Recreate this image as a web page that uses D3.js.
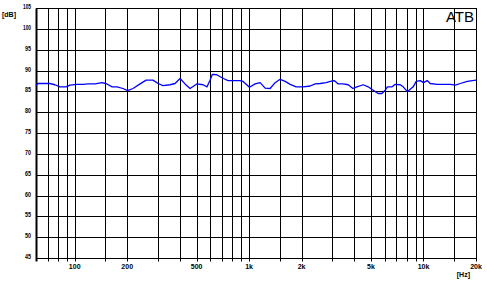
<!DOCTYPE html>
<html><head><meta charset="utf-8">
<script src="https://cdn.jsdelivr.net/npm/d3@7"></script>
<style>
html,body{margin:0;padding:0;background:#fff;}
svg{display:block;}
text{font-family:"Liberation Sans",Arial,sans-serif;fill:#000;}
</style></head>
<body>
<svg id="chart" width="487" height="291"></svg>
<script>
const freqs = [60,61.5,66.7,72,77,82.4,89,94,103,112,119,131,143,151,164,175,189,201,216,237,257,281,301,321,352,376,402,429,459,501,545,574,597,616,653,712,758,832,888,924,1005,1082,1156,1236,1320,1410,1506,1610,1720,1861,2043,2240,2393,2556,2766,2917,3076,3243,3463,3700,3937,4151,4511,4818,5145,5495,5770,6030,6214,6610,6880,7350,7650,8100,8390,8730,9085,9580,10000,10500,10920,11990,13150,14230,15200,16250,17820,20000];
const levels = [86.6,87.0,87.0,87.0,86.7,86.2,86.2,86.6,86.8,86.8,86.9,86.9,87.2,87.0,86.2,86.2,85.8,85.3,85.8,86.9,87.8,87.8,87.0,86.5,86.7,87.0,88.2,86.9,85.8,86.9,86.7,86.2,87.8,89.2,89.1,88.2,87.7,87.7,87.7,87.5,86.1,86.9,87.2,85.9,85.8,87.2,88.0,87.5,86.8,86.2,86.2,86.4,86.9,87.0,87.2,87.5,87.7,86.9,86.9,86.7,85.8,86.2,86.7,86.2,85.4,84.6,84.6,85.4,86.2,86.2,86.8,86.7,86.2,85.0,85.6,86.2,87.5,87.7,87.2,87.7,87.0,86.8,86.8,86.8,86.6,87.0,87.5,87.8];
const xGrid = [70,80,90,100,150,200,300,400,500,600,700,800,900,1000,1500,2000,3000,4000,5000,6000,7000,8000,9000,10000,15000,20000];
const xTickVals = [100,200,500,1000,2000,5000,10000,20000];
const xTickLabels = ["100","200","500","1k","2k","5k","10k","20k"];
const yTicks = [45,50,55,60,65,70,75,80,85,90,95,100,105];
const title = "ATB";

const svg = d3.select("#chart");
const x = d3.scaleLog().domain([60,20000]).range([36,476]);
const y = d3.scaleLinear().domain([45,105]).range([258.5,8.5]);
const px = v => Math.round(x(v)) + 0.5;
const py = v => Math.round(y(v) - 0.5) + 0.5;

// horizontal grid
svg.append("g").selectAll("line").data(yTicks).join("line")
  .attr("x1", 36).attr("x2", px(20000) + 0.5)
  .attr("y1", d => py(d)).attr("y2", d => py(d))
  .attr("stroke", "#000").attr("stroke-width", 1);

// vertical grid with small ticks below
svg.append("g").selectAll("line").data(xGrid).join("line")
  .attr("x1", d => px(d)).attr("x2", d => px(d))
  .attr("y1", py(105)).attr("y2", py(45) + 3)
  .attr("stroke", "#000").attr("stroke-width", 1);

// left axis (thicker)
svg.append("line")
  .attr("x1", px(60)).attr("x2", px(60))
  .attr("y1", py(105)).attr("y2", py(45) + 3)
  .attr("stroke", "#000").attr("stroke-width", 2);

// y labels
svg.append("g").selectAll("text").data(yTicks).join("text")
  .attr("x", 31).attr("y", d => py(d) - 2)
  .attr("text-anchor", "end").attr("dominant-baseline", "central")
  .attr("font-size", 7).attr("font-weight", "bold")
  .attr("textLength", d => String(d).length === 3 ? 8 : 6)
  .attr("lengthAdjust", "spacingAndGlyphs")
  .text(d => d);

// x labels
svg.append("g").selectAll("text").data(xTickVals).join("text")
  .attr("x", d => x(d)).attr("y", 266)
  .attr("text-anchor", "middle").attr("dominant-baseline", "central")
  .attr("font-size", 7).attr("font-weight", "bold")
  .text((d, i) => xTickLabels[i]);

svg.append("text").attr("x", 16).attr("y", 14).attr("text-anchor", "end")
  .attr("dominant-baseline", "central").attr("font-size", 7).attr("font-weight", "bold").text("[dB]");
svg.append("text").attr("x", 470).attr("y", 274).attr("text-anchor", "end")
  .attr("dominant-baseline", "central").attr("font-size", 7).attr("font-weight", "bold").text("[Hz]");

svg.append("text").attr("x", 474).attr("y", 22).attr("text-anchor", "end")
  .attr("font-size", 15).text(title);

// curve
const line = d3.line().x((d, i) => x(freqs[i])).y(d => y(d)).curve(d3.curveLinear);
svg.append("path").datum(levels)
  .attr("d", line).attr("fill", "none")
  .attr("stroke", "#0000ff").attr("stroke-width", 1.3).attr("stroke-linejoin", "round");
</script>
</body></html>
